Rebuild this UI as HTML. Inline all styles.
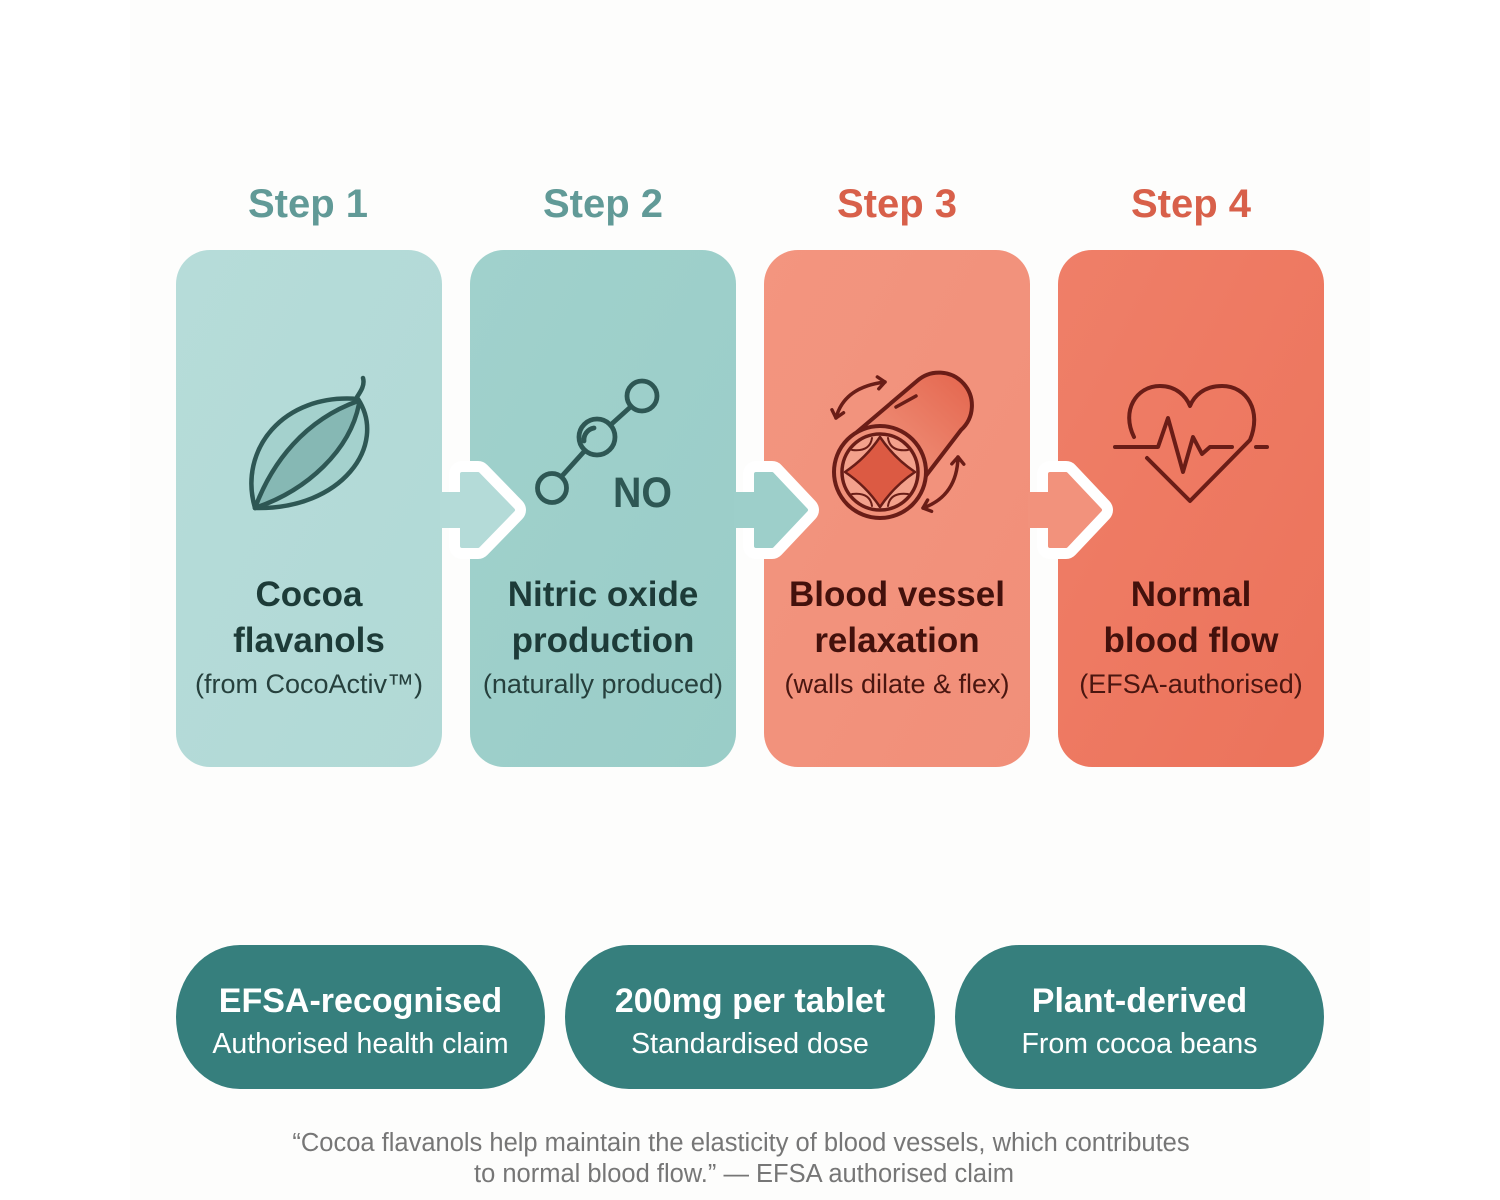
<!DOCTYPE html>
<html>
<head>
<meta charset="utf-8">
<style>
  html,body{margin:0;padding:0;background:#ffffff;}
  body{width:1500px;height:1200px;overflow:hidden;}
  svg{display:block;}
  text{font-family:"Liberation Sans", sans-serif;}
</style>
</head>
<body>
<svg width="1500" height="1200" viewBox="0 0 1500 1200" xmlns="http://www.w3.org/2000/svg">
  <defs>
    <linearGradient id="g1" x1="0" y1="0" x2="1" y2="1">
      <stop offset="0" stop-color="#b6dcd9"/>
      <stop offset="1" stop-color="#b1d9d6"/>
    </linearGradient>
    <linearGradient id="g2" x1="0" y1="0" x2="1" y2="1">
      <stop offset="0" stop-color="#a0d1cc"/>
      <stop offset="1" stop-color="#9acdc8"/>
    </linearGradient>
    <linearGradient id="g3" x1="0" y1="0" x2="1" y2="1">
      <stop offset="0" stop-color="#f3957f"/>
      <stop offset="1" stop-color="#f18f79"/>
    </linearGradient>
    <linearGradient id="g4" x1="0" y1="0" x2="1" y2="1">
      <stop offset="0" stop-color="#ef7f68"/>
      <stop offset="1" stop-color="#ec735b"/>
    </linearGradient>
    <linearGradient id="cyl" x1="0" y1="1" x2="1" y2="0">
      <stop offset="0" stop-color="#f29a83"/>
      <stop offset="1" stop-color="#e4654d"/>
    </linearGradient>
    <marker id="ah" viewBox="-10 -10 20 20" markerWidth="20" markerHeight="20" markerUnits="userSpaceOnUse" orient="auto-start-reverse">
      <path d="M-7,-6 L0,0 L-7,6" fill="none" stroke="#6a1d17" stroke-width="3.4" stroke-linecap="round" stroke-linejoin="round"/>
    </marker>
  </defs>

  <!-- background -->
  <rect x="0" y="0" width="1500" height="1200" fill="#ffffff"/>
  <rect x="130" y="0" width="1240" height="1200" fill="#fdfdfc"/>

  <!-- Step labels -->
  <text x="308" y="217" font-size="40" font-weight="bold" fill="#619a97" text-anchor="middle">Step 1</text>
  <text x="603" y="217" font-size="40" font-weight="bold" fill="#619a97" text-anchor="middle">Step 2</text>
  <text x="897" y="217" font-size="40" font-weight="bold" fill="#d8604a" text-anchor="middle">Step 3</text>
  <text x="1191" y="217" font-size="40" font-weight="bold" fill="#d8604a" text-anchor="middle">Step 4</text>

  <!-- Cards -->
  <rect x="176" y="250" width="266" height="517" rx="34" ry="34" fill="url(#g1)"/>
  <rect x="470" y="250" width="266" height="517" rx="34" ry="34" fill="url(#g2)"/>
  <rect x="764" y="250" width="266" height="517" rx="34" ry="34" fill="url(#g3)"/>
  <rect x="1058" y="250" width="266" height="517" rx="34" ry="34" fill="url(#g4)"/>

  <!-- Connector tabs -->
  <path d="M462,474 L478,474 L513,510 L478,546 L462,546 Z" fill="#ffffff" stroke="#ffffff" stroke-width="26" stroke-linejoin="round"/>
  <path d="M462,474 L478,474 L513,510 L478,546 L462,546 Z" fill="#b4dbd8" stroke="#b4dbd8" stroke-width="4" stroke-linejoin="round"/>
  <rect x="440" y="492" width="26" height="36" fill="#b4dbd8"/>

  <path d="M756,474 L772,474 L806,510 L772,546 L756,546 Z" fill="#ffffff" stroke="#ffffff" stroke-width="26" stroke-linejoin="round"/>
  <path d="M756,474 L772,474 L806,510 L772,546 L756,546 Z" fill="#9dcfca" stroke="#9dcfca" stroke-width="4" stroke-linejoin="round"/>
  <rect x="734" y="492" width="26" height="36" fill="#9dcfca"/>

  <path d="M1050,474 L1066,474 L1100,510 L1066,546 L1050,546 Z" fill="#ffffff" stroke="#ffffff" stroke-width="26" stroke-linejoin="round"/>
  <path d="M1050,474 L1066,474 L1100,510 L1066,546 L1050,546 Z" fill="#f2927c" stroke="#f2927c" stroke-width="4" stroke-linejoin="round"/>
  <rect x="1028" y="492" width="26" height="36" fill="#f2927c"/>

  <!-- Icon 1: cocoa pod / leaf -->
  <g fill="none" stroke="#2e5754" stroke-width="4.5" stroke-linecap="round" stroke-linejoin="round">
    <path d="M255,508 C238,450 283,393 358,399 C388,445 342,510 255,508 Z" fill="#a4d1cd"/>
    <path d="M255,508 C272,462 305,420 358,401 C350,450 308,490 255,508 Z" fill="#86b8b4" stroke="none"/>
    <path d="M255,508 C272,462 305,420 358,401"/>
    <path d="M255,508 C308,490 350,450 359,404"/>
    <path d="M357,397 C361,391 365,385 363,378"/>
  </g>

  <!-- Icon 2: molecule NO -->
  <g fill="none" stroke="#2e5754" stroke-width="4.8" stroke-linecap="round">
    <circle cx="597" cy="437" r="18"/>
    <circle cx="642" cy="396" r="15"/>
    <circle cx="552" cy="488" r="14.5"/>
    <line x1="610.5" y1="425" x2="631" y2="406.5"/>
    <line x1="585" y1="450.5" x2="562" y2="476"/>
    <path d="M584,441 A12 12 0 0 1 594,428"/>
  </g>
  <text x="613" y="507" font-size="43" font-weight="bold" fill="#2e5754" textLength="59" lengthAdjust="spacingAndGlyphs">NO</text>

  <!-- Icon 3: blood vessel -->
  <g stroke="#6a1d17" stroke-linecap="round" stroke-linejoin="round">
    <path d="M857,432 L917,381 A32 32 0 0 1 961,430 L925,477 Z" fill="url(#cyl)" stroke-width="4"/>
    <line x1="896" y1="407" x2="916" y2="396" stroke-width="3.5"/>
    <circle cx="880" cy="472" r="46" fill="#f0917a" stroke-width="4"/>
    <circle cx="880" cy="472" r="38" fill="#f3a18c" stroke-width="3.5"/>
    <path d="M880,437 Q894,458 915,472 Q894,486 880,507 Q866,486 845,472 Q866,458 880,437 Z" fill="#dc5a43" stroke-width="2.5"/>
    <path d="M852,450 Q870,452 872,438" fill="none" stroke-width="2"/>
    <path d="M908,450 Q890,452 888,438" fill="none" stroke-width="2"/>
    <path d="M852,494 Q870,492 872,506" fill="none" stroke-width="2"/>
    <path d="M908,494 Q890,492 888,506" fill="none" stroke-width="2"/>
    <path d="M836,418 Q844,387 885,382" fill="none" stroke-width="3.5" marker-start="url(#ah)" marker-end="url(#ah)"/>
    <path d="M923,508 Q957,496 958,457" fill="none" stroke-width="3.5" marker-start="url(#ah)" marker-end="url(#ah)"/>
  </g>

  <!-- Icon 4: heart with ECG -->
  <g fill="none" stroke="#6a1d17" stroke-width="4" stroke-linecap="round" stroke-linejoin="round">
    <path d="M1134,437 C1121,411 1136,386 1160,386 C1176,386 1186,396 1190,406 C1194,396 1204,386 1222,386 C1247,386 1262,411 1250,440 L1190,501 L1147,458"/>
    <path d="M1115,447 L1158,447 L1168,418 L1183,472 L1193,437 L1202,454 L1210,447 L1232,447"/>
    <path d="M1256,447 L1267,447"/>
  </g>

  <!-- Card texts -->
  <g font-size="35" font-weight="bold" text-anchor="middle" fill="#1d3b38">
    <text x="309" y="606">Cocoa</text>
    <text x="309" y="652">flavanols</text>
    <text x="603" y="606">Nitric oxide</text>
    <text x="603" y="652">production</text>
  </g>
  <g font-size="35" font-weight="bold" text-anchor="middle" fill="#43110c">
    <text x="897" y="606">Blood vessel</text>
    <text x="897" y="652">relaxation</text>
    <text x="1191" y="606">Normal</text>
    <text x="1191" y="652">blood flow</text>
  </g>
  <g font-size="27" text-anchor="middle">
    <text x="309" y="693" fill="#26403d">(from CocoActiv™)</text>
    <text x="603" y="693" fill="#26403d">(naturally produced)</text>
    <text x="897" y="693" fill="#4a1610">(walls dilate &amp; flex)</text>
    <text x="1191" y="693" fill="#4a1610">(EFSA-authorised)</text>
  </g>

  <!-- Pills -->
  <rect x="176" y="945" width="369" height="144" rx="64" ry="72" fill="#367f7d"/>
  <rect x="565" y="945" width="370" height="144" rx="64" ry="72" fill="#367f7d"/>
  <rect x="955" y="945" width="369" height="144" rx="64" ry="72" fill="#367f7d"/>
  <g fill="#ffffff" text-anchor="middle">
    <text x="360.5" y="1012" font-size="34" font-weight="bold">EFSA-recognised</text>
    <text x="360.5" y="1053" font-size="28.5">Authorised health claim</text>
    <text x="750" y="1012" font-size="34" font-weight="bold">200mg per tablet</text>
    <text x="750" y="1053" font-size="28.5">Standardised dose</text>
    <text x="1139.5" y="1012" font-size="34" font-weight="bold">Plant-derived</text>
    <text x="1139.5" y="1053" font-size="28.5">From cocoa beans</text>
  </g>

  <!-- Quote -->
  <g fill="#767676" font-size="25.5" text-anchor="middle">
    <text x="741" y="1151">“Cocoa flavanols help maintain the elasticity of blood vessels, which contributes</text>
    <text x="744" y="1182">to normal blood flow.” — EFSA authorised claim</text>
  </g>
</svg>
</body>
</html>
